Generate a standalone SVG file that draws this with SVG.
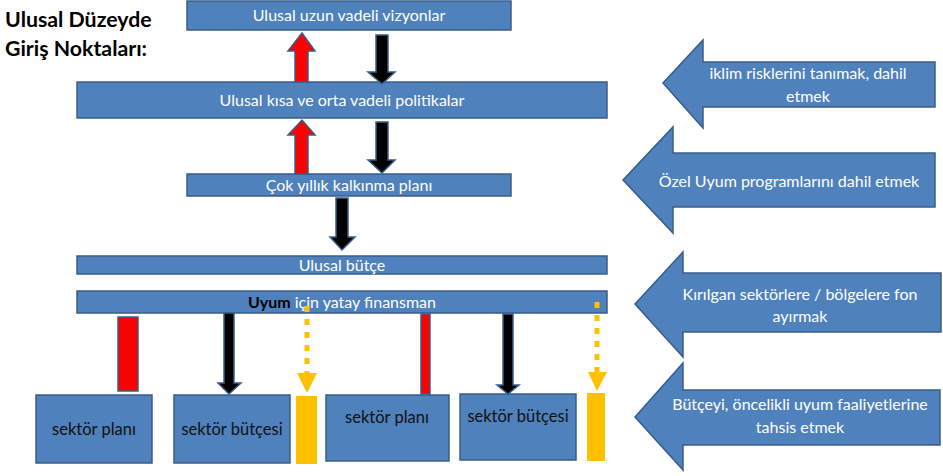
<svg xmlns="http://www.w3.org/2000/svg" width="943" height="476" viewBox="0 0 943 476">
<style>
.box{fill:#4F81BD;stroke:#385D8A;stroke-width:1.5}
.t{font-family:Lato,"Open Sans","Liberation Sans",sans-serif;font-size:16px;fill:#FFFFFF;text-anchor:middle}
.d{font-family:Lato,"Open Sans","Liberation Sans",sans-serif;font-size:16.5px;fill:#111111;text-anchor:middle}
.title{font-family:Lato,"Open Sans","Liberation Sans",sans-serif;font-size:21.3px;font-weight:bold;fill:#000000}
.red{fill:#FF0000;stroke:#385D8A;stroke-width:1.5}
.blk{fill:#000000;stroke:#385D8A;stroke-width:1.5}
.yel{fill:#FFC000}
.dot{stroke:#FFC000;stroke-width:5;stroke-dasharray:6 7;fill:none}
</style>
<rect width="943" height="476" fill="#FFFFFF"/>
<g id="title">
<text class="title" x="5" y="27">Ulusal Düzeyde</text>
<text class="title" x="5" y="56">Giriş Noktaları:</text>
</g>
<g id="n-vizyon"><rect class="box" x="187" y="1" width="324" height="29"/><text class="t" x="349" y="21">Ulusal uzun vadeli vizyonlar</text></g>
<g id="n-politika"><rect class="box" x="77" y="82" width="530" height="36"/><text class="t" x="342" y="106">Ulusal kısa ve orta vadeli politikalar</text></g>
<g id="n-plan"><rect class="box" x="187" y="174" width="324" height="22"/><text class="t" x="349" y="191">Çok yıllık kalkınma planı</text></g>
<g id="n-butce"><rect class="box" x="77" y="256" width="530" height="18"/><text class="t" x="342" y="271">Ulusal bütçe</text></g>
<g id="n-uyum"><rect class="box" x="77" y="291" width="530" height="22"/><text class="t" x="342" y="308"><tspan font-weight="bold" fill="#000000">Uyum</tspan> için yatay finansman</text></g>
<g id="n-sp1"><rect class="box" x="36" y="395" width="116" height="68"/><text class="d" x="94" y="435">sektör planı</text></g>
<g id="n-sb1"><rect class="box" x="174" y="395" width="116" height="68"/><text class="d" x="232" y="435">sektör bütçesi</text></g>
<g id="n-y1"><rect class="yel" x="296" y="396" width="21" height="68"/></g>
<g id="n-sp2"><rect class="box" x="326" y="395" width="123" height="66"/><text class="d" x="387" y="423">sektör planı</text></g>
<g id="n-sb2"><rect class="box" x="460" y="394" width="116" height="66"/><text class="d" x="518" y="422">sektör bütçesi</text></g>
<g id="n-y2"><rect class="yel" x="587" y="393" width="18" height="68"/></g>
<g id="n-a1"><polygon class="box" points="663,83 703,40 703,62 935,62 935,107 703,107 703,128"/><text class="t" x="808" y="79">iklim risklerini tanımak, dahil</text><text class="t" x="808" y="102">etmek</text></g>
<g id="n-a2"><polygon class="box" points="623,180 673,127 673,153 935,153 935,207 673,207 673,233"/><text class="t" x="789" y="187">Özel Uyum programlarını dahil etmek</text></g>
<g id="n-a3"><polygon class="box" points="635,304 683,252 683,273 941,273 941,332 683,332 683,357"/><text class="t" x="800" y="300">Kırılgan sektörlere / bölgelere fon</text><text class="t" x="800" y="322">ayırmak</text></g>
<g id="n-a4"><polygon class="box" points="635,417 683,363 683,390 940,390 940,445 683,445 683,470"/><text class="t" x="800" y="410">Bütçeyi, öncelikli uyum faaliyetlerine</text><text class="t" x="800" y="433">tahsis etmek</text></g>
<g id="connectors">
<polygon class="red" points="295,82 295,51 288,51 302,33 315,51 308,51 308,82"/>
<polygon class="red" points="295,174 295,135 288,135 302,120 315,135 308,135 308,174"/>
<polygon class="blk" points="376,35 388,35 388,72 395,72 382,84 368,72 376,72"/>
<polygon class="blk" points="376,122 388,122 388,160 395,160 382,173 368,160 376,160"/>
<polygon class="blk" points="336,198 348,198 348,237 355,237 342,250 330,237 336,237"/>
<rect class="red" x="118" y="317" width="20" height="74"/>
<polygon class="blk" points="224,313 234,313 234,383 241,383 229,394 218,383 224,383"/>
<line class="dot" x1="307" y1="306" x2="307" y2="373"/>
<polygon class="yel" points="297,373 317,373 307,393"/>
<rect class="red" x="421" y="314" width="9" height="80"/>
<polygon class="blk" points="503,314 513,314 513,385 519,385 508,394 497,385 503,385"/>
<line class="dot" x1="597" y1="302" x2="597" y2="372"/>
<polygon class="yel" points="588,372 607,372 597,391"/>
</g>
</svg>
